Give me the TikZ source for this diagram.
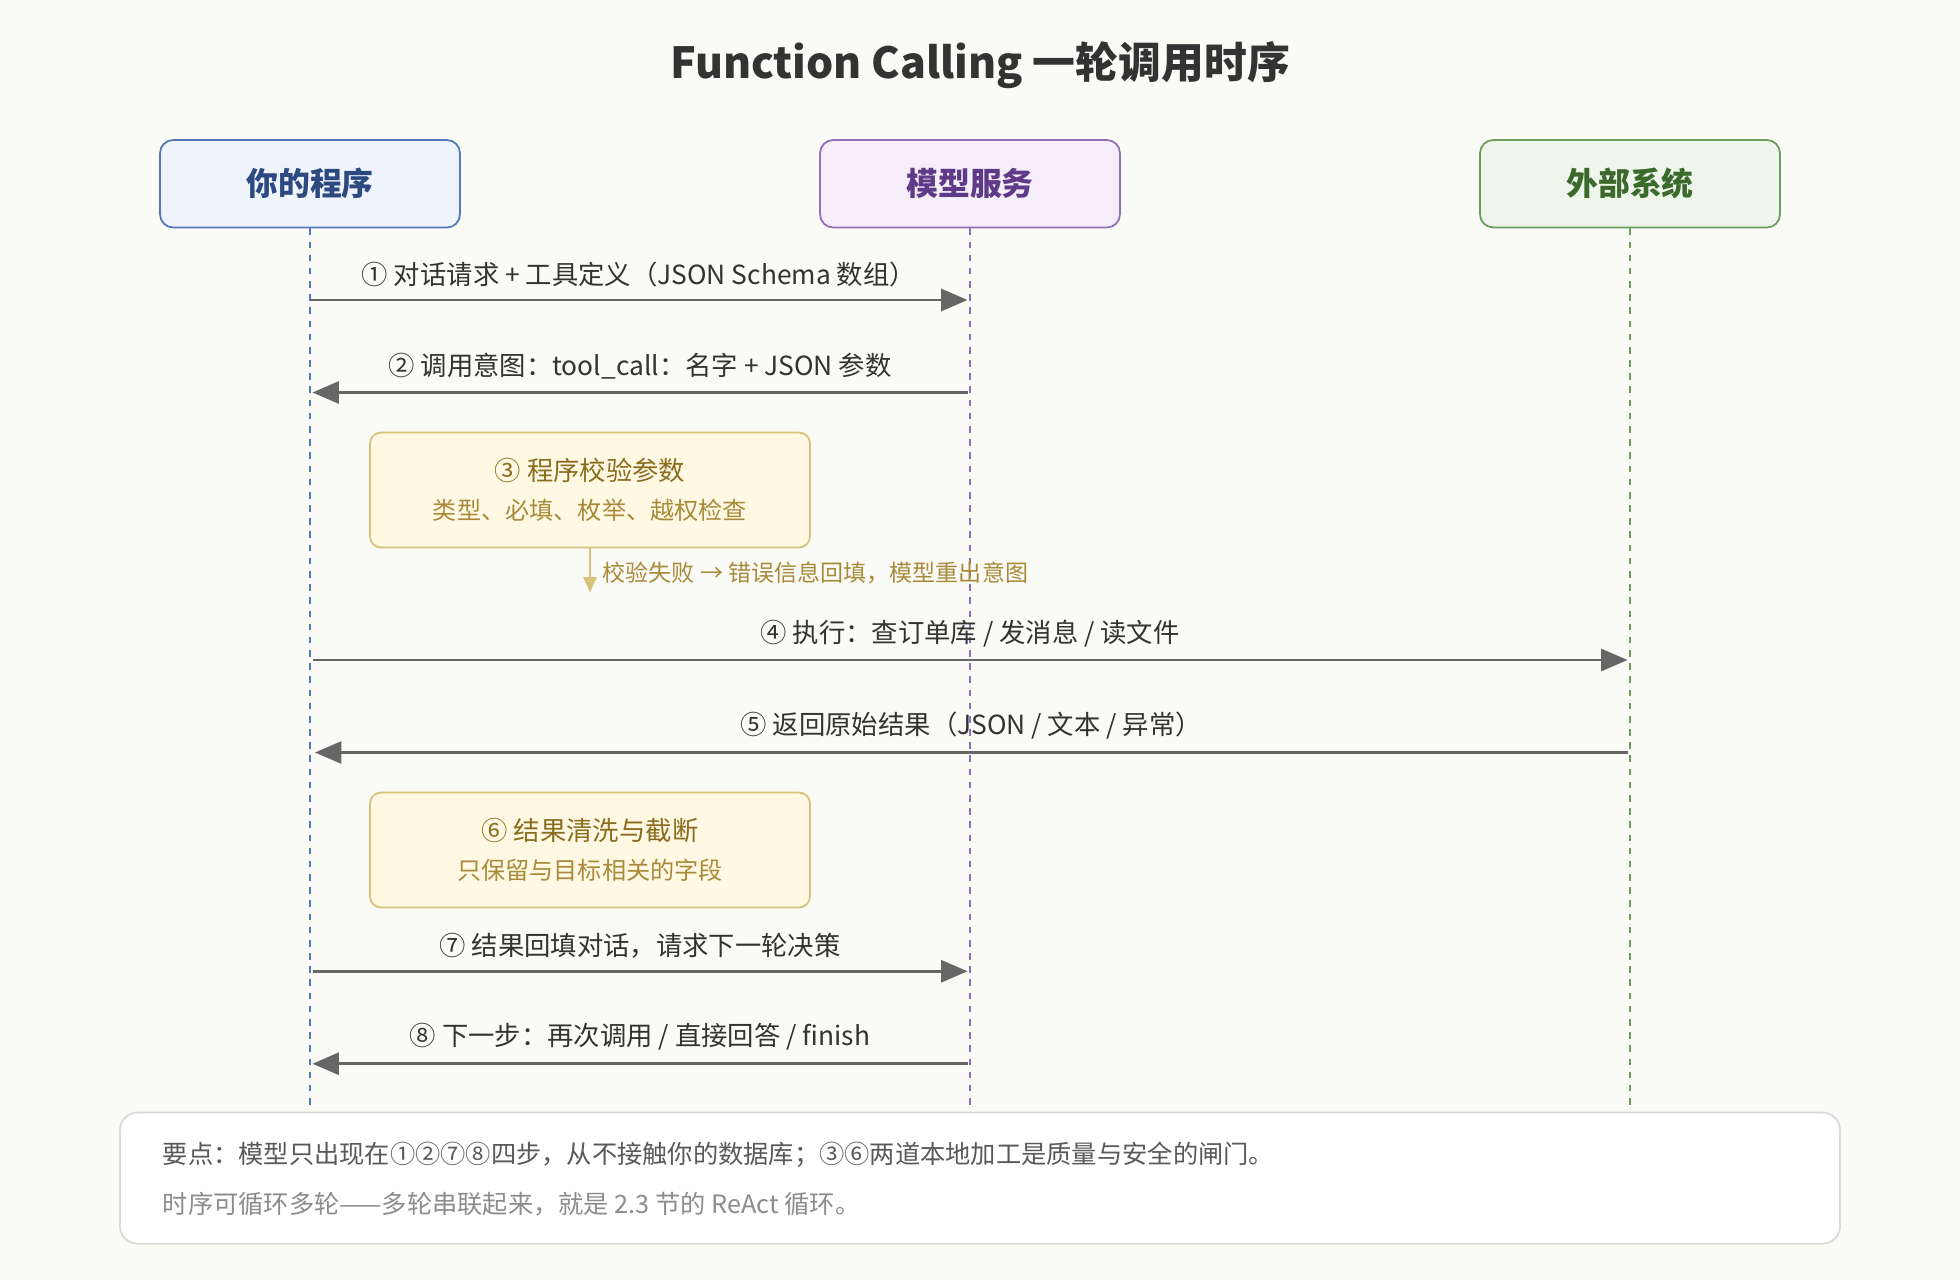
\documentclass[tikz,border=0pt]{standalone}
\usepackage{fontspec}
\setmainfont{Noto Sans CJK SC}
\usetikzlibrary{positioning}
\usetikzlibrary{arrows.meta}

\definecolor{bgcol}{HTML}{FAFAF6}
\definecolor{bluefill}{HTML}{EEF3FC}
\definecolor{blueline}{HTML}{5577BB}
\definecolor{bluetext}{HTML}{2C4A80}
\definecolor{purfill}{HTML}{F5EEFA}
\definecolor{purline}{HTML}{9270B8}
\definecolor{purtext}{HTML}{5E3A87}
\definecolor{grnfill}{HTML}{EEF6EC}
\definecolor{grnline}{HTML}{6A9E5A}
\definecolor{grntext}{HTML}{3B6A2C}
\definecolor{notefill}{HTML}{FFF8E3}
\definecolor{noteline}{HTML}{D8C27A}
\definecolor{notetext}{HTML}{8A6D1E}
\definecolor{notesub}{HTML}{A88A3A}
\definecolor{arrowcol}{HTML}{666666}
\definecolor{txtcol}{HTML}{333333}

\tikzset{
  actor/.style={rectangle,rounded corners=6pt,minimum width=4.8cm,minimum height=1.4cm,line width=0.8pt,font=\fontsize{14.5}{18}\selectfont\bfseries},
  life/.style={dashed,line width=1.2pt},
  msg/.style={draw=arrowcol,line width=1.3pt,-{Triangle[length=12pt,width=10pt]}},
  msglabel/.style={font=\fontsize{12}{15}\selectfont,text=txtcol,anchor=south},
  stepbox/.style={rectangle,rounded corners=5pt,draw=noteline,fill=notefill,line width=0.8pt,minimum width=7.04cm,minimum height=1.84cm,align=center,text=notetext}
}

\begin{document}
\begin{tikzpicture}[x=0.02cm,y=-0.02cm]
\useasboundingbox[fill=bgcol] (0,0) rectangle (1568,1024);
\node[font=\fontsize{19.5}{24}\selectfont\bfseries,text=txtcol] (title) at (784,52) {Function Calling 一轮调用时序};

\node[actor,draw=blueline,fill=bluefill,text=bluetext] (prog) at (248,147) {你的程序};
\node[actor,draw=purline,fill=purfill,text=purtext] (model) at (776,147) {模型服务};
\node[actor,draw=grnline,fill=grnfill,text=grntext] (ext) at (1304,147) {外部系统};

\coordinate (progend) at (248,888);
\coordinate (modelend) at (776,888);
\coordinate (extend) at (1304,888);
\draw[life,draw=blueline] (prog.south) -- (progend);
\draw[life,draw=purline] (model.south) -- (modelend);
\draw[life,draw=grnline] (ext.south) -- (extend);

% messages
\coordinate (p1) at (248,240); \coordinate (m1) at (774,240);
\draw[msg] (p1) -- node[msglabel,above=2pt] {① 对话请求 + 工具定义（JSON Schema 数组）} (m1);
\coordinate (m2) at (774,314); \coordinate (p2) at (250,314);
\draw[msg] (m2) -- node[msglabel,above=2pt] {② 调用意图：tool\_call：名字 + JSON 参数} (p2);

\node[stepbox] (check) at (472,392) {\fontsize{12}{15}\selectfont ③ 程序校验参数\\[6pt]\fontsize{11}{13}\selectfont\color{notesub} 类型、必填、枚举、越权检查};
\coordinate (fail) at (472,474);
\draw[draw=noteline,line width=1pt,-{Triangle[length=7pt,width=6pt]}] (check.south) -- (fail);
\node[font=\fontsize{10.5}{13}\selectfont,text=notesub,anchor=west] (failtext) at (476,458) {校验失败 → 错误信息回填，模型重出意图};

\coordinate (p4) at (250,528); \coordinate (e4) at (1302,528);
\draw[msg] (p4) -- node[msglabel,above=2pt] {④ 执行：查订单库 / 发消息 / 读文件} (e4);
\coordinate (e5) at (1302,602); \coordinate (p5) at (252,602);
\draw[msg] (e5) -- node[msglabel,above=2pt] {⑤ 返回原始结果（JSON / 文本 / 异常）} (p5);

\node[stepbox] (clean) at (472,680) {\fontsize{12}{15}\selectfont ⑥ 结果清洗与截断\\[6pt]\fontsize{11}{13}\selectfont\color{notesub} 只保留与目标相关的字段};

\coordinate (p7) at (250,777); \coordinate (m7) at (774,777);
\draw[msg] (p7) -- node[msglabel,above=2pt] {⑦ 结果回填对话，请求下一轮决策} (m7);
\coordinate (m8) at (774,851); \coordinate (p8) at (250,851);
\draw[msg] (m8) -- node[msglabel,above=2pt] {⑧ 下一步：再次调用 / 直接回答 / finish} (p8);

% key points
\draw[draw=black!15,fill=white,rounded corners=8pt,line width=0.8pt] (96,890) rectangle (1472,995);
\node[anchor=west,font=\fontsize{11.5}{14}\selectfont,text=black!65] (key1) at (124,924) {要点：模型只出现在①②⑦⑧四步，从不接触你的数据库；③⑥两道本地加工是质量与安全的闸门。};
\node[anchor=west,font=\fontsize{11.5}{14}\selectfont,text=black!45] (key2) at (124,963) {时序可循环多轮——多轮串联起来，就是 2.3 节的 ReAct 循环。};
\end{tikzpicture}
\end{document}
